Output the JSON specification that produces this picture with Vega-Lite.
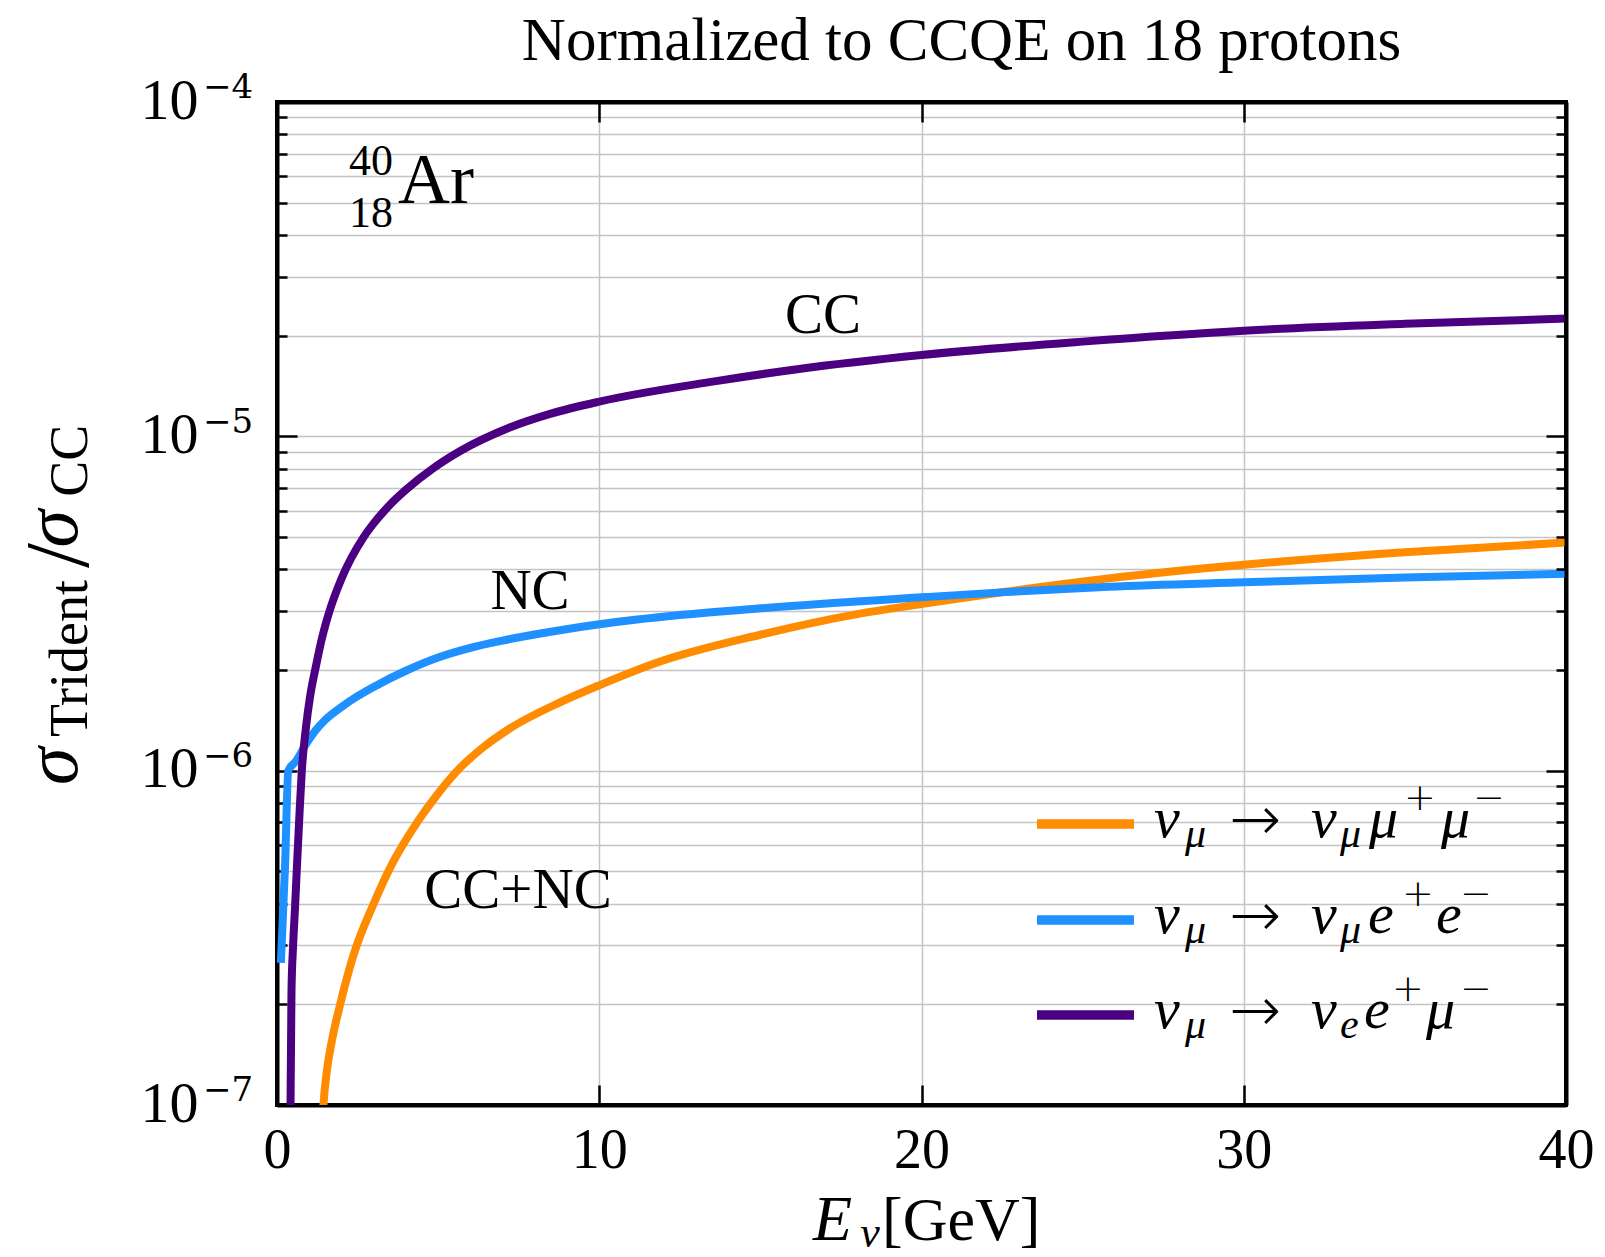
{
  "$schema": "https://vega.github.io/schema/vega-lite/v6.json",
  "width": 1289,
  "height": 1003,
  "autosize": {"type": "none"},
  "padding": {"left": 277, "top": 102, "right": 39, "bottom": 152},
  "background": "white",
  "config": {"view": {"stroke": "black", "strokeWidth": 4}, "font": "Liberation Serif"},
  "title": {"text": "Normalized to CCQE on 18 protons", "font": "Liberation Serif", "fontSize": 61, "fontWeight": "normal", "color": "black", "anchor": "middle", "dx": 40, "baseline": "alphabetic", "offset": -50},
  "datasets": {
    "curves": [
      {"s": "ν_μ → ν_μ μ⁺μ⁻", "E": 1.38, "v": 8e-8},
      {"s": "ν_μ → ν_μ μ⁺μ⁻", "E": 1.44, "v": 1.0e-7},
      {"s": "ν_μ → ν_μ μ⁺μ⁻", "E": 1.54, "v": 1.25e-7},
      {"s": "ν_μ → ν_μ μ⁺μ⁻", "E": 1.70, "v": 1.55e-7},
      {"s": "ν_μ → ν_μ μ⁺μ⁻", "E": 1.96, "v": 2.0e-7},
      {"s": "ν_μ → ν_μ μ⁺μ⁻", "E": 2.37, "v": 2.8e-7},
      {"s": "ν_μ → ν_μ μ⁺μ⁻", "E": 3.0, "v": 4.0e-7},
      {"s": "ν_μ → ν_μ μ⁺μ⁻", "E": 3.5, "v": 5.1e-7},
      {"s": "ν_μ → ν_μ μ⁺μ⁻", "E": 4.39, "v": 7.1e-7},
      {"s": "ν_μ → ν_μ μ⁺μ⁻", "E": 5.0, "v": 8.55e-7},
      {"s": "ν_μ → ν_μ μ⁺μ⁻", "E": 5.66, "v": 1.015e-6},
      {"s": "ν_μ → ν_μ μ⁺μ⁻", "E": 6.4, "v": 1.175e-6},
      {"s": "ν_μ → ν_μ μ⁺μ⁻", "E": 7.24, "v": 1.34e-6},
      {"s": "ν_μ → ν_μ μ⁺μ⁻", "E": 8.78, "v": 1.6e-6},
      {"s": "ν_μ → ν_μ μ⁺μ⁻", "E": 10, "v": 1.8e-6},
      {"s": "ν_μ → ν_μ μ⁺μ⁻", "E": 11.89, "v": 2.12e-6},
      {"s": "ν_μ → ν_μ μ⁺μ⁻", "E": 15, "v": 2.55e-6},
      {"s": "ν_μ → ν_μ μ⁺μ⁻", "E": 18.09, "v": 2.95e-6},
      {"s": "ν_μ → ν_μ μ⁺μ⁻", "E": 20, "v": 3.15e-6},
      {"s": "ν_μ → ν_μ μ⁺μ⁻", "E": 22.6, "v": 3.43e-6},
      {"s": "ν_μ → ν_μ μ⁺μ⁻", "E": 25.8, "v": 3.76e-6},
      {"s": "ν_μ → ν_μ μ⁺μ⁻", "E": 30, "v": 4.13e-6},
      {"s": "ν_μ → ν_μ μ⁺μ⁻", "E": 35, "v": 4.5e-6},
      {"s": "ν_μ → ν_μ μ⁺μ⁻", "E": 40, "v": 4.81e-6},
      {"s": "ν_μ → ν_μ e⁺e⁻", "E": 0.12, "v": 2.66e-7},
      {"s": "ν_μ → ν_μ e⁺e⁻", "E": 0.25, "v": 5.2e-7},
      {"s": "ν_μ → ν_μ e⁺e⁻", "E": 0.35, "v": 1.0e-6},
      {"s": "ν_μ → ν_μ e⁺e⁻", "E": 0.6, "v": 1.07e-6},
      {"s": "ν_μ → ν_μ e⁺e⁻", "E": 0.9, "v": 1.2e-6},
      {"s": "ν_μ → ν_μ e⁺e⁻", "E": 1.2, "v": 1.32e-6},
      {"s": "ν_μ → ν_μ e⁺e⁻", "E": 1.5, "v": 1.42e-6},
      {"s": "ν_μ → ν_μ e⁺e⁻", "E": 2.0, "v": 1.55e-6},
      {"s": "ν_μ → ν_μ e⁺e⁻", "E": 2.5, "v": 1.67e-6},
      {"s": "ν_μ → ν_μ e⁺e⁻", "E": 3.0, "v": 1.78e-6},
      {"s": "ν_μ → ν_μ e⁺e⁻", "E": 4.0, "v": 1.99e-6},
      {"s": "ν_μ → ν_μ e⁺e⁻", "E": 5.0, "v": 2.18e-6},
      {"s": "ν_μ → ν_μ e⁺e⁻", "E": 6.0, "v": 2.33e-6},
      {"s": "ν_μ → ν_μ e⁺e⁻", "E": 7.0, "v": 2.45e-6},
      {"s": "ν_μ → ν_μ e⁺e⁻", "E": 8.78, "v": 2.63e-6},
      {"s": "ν_μ → ν_μ e⁺e⁻", "E": 10, "v": 2.74e-6},
      {"s": "ν_μ → ν_μ e⁺e⁻", "E": 12.5, "v": 2.92e-6},
      {"s": "ν_μ → ν_μ e⁺e⁻", "E": 15, "v": 3.06e-6},
      {"s": "ν_μ → ν_μ e⁺e⁻", "E": 20, "v": 3.3e-6},
      {"s": "ν_μ → ν_μ e⁺e⁻", "E": 22.6, "v": 3.42e-6},
      {"s": "ν_μ → ν_μ e⁺e⁻", "E": 25.8, "v": 3.55e-6},
      {"s": "ν_μ → ν_μ e⁺e⁻", "E": 30, "v": 3.66e-6},
      {"s": "ν_μ → ν_μ e⁺e⁻", "E": 35, "v": 3.78e-6},
      {"s": "ν_μ → ν_μ e⁺e⁻", "E": 40, "v": 3.88e-6},
      {"s": "ν_μ → ν_e e⁺μ⁻", "E": 0.40, "v": 5e-8},
      {"s": "ν_μ → ν_e e⁺μ⁻", "E": 0.42, "v": 1.0e-7},
      {"s": "ν_μ → ν_e e⁺μ⁻", "E": 0.45, "v": 2.2e-7},
      {"s": "ν_μ → ν_e e⁺μ⁻", "E": 0.50, "v": 3.0e-7},
      {"s": "ν_μ → ν_e e⁺μ⁻", "E": 0.56, "v": 3.9e-7},
      {"s": "ν_μ → ν_e e⁺μ⁻", "E": 0.62, "v": 5.2e-7},
      {"s": "ν_μ → ν_e e⁺μ⁻", "E": 0.70, "v": 7.5e-7},
      {"s": "ν_μ → ν_e e⁺μ⁻", "E": 0.77, "v": 1.0e-6},
      {"s": "ν_μ → ν_e e⁺μ⁻", "E": 0.90, "v": 1.35e-6},
      {"s": "ν_μ → ν_e e⁺μ⁻", "E": 1.02, "v": 1.65e-6},
      {"s": "ν_μ → ν_e e⁺μ⁻", "E": 1.22, "v": 2.08e-6},
      {"s": "ν_μ → ν_e e⁺μ⁻", "E": 1.40, "v": 2.5e-6},
      {"s": "ν_μ → ν_e e⁺μ⁻", "E": 1.61, "v": 2.96e-6},
      {"s": "ν_μ → ν_e e⁺μ⁻", "E": 2.0, "v": 3.75e-6},
      {"s": "ν_μ → ν_e e⁺μ⁻", "E": 2.68, "v": 4.98e-6},
      {"s": "ν_μ → ν_e e⁺μ⁻", "E": 3.0, "v": 5.49e-6},
      {"s": "ν_μ → ν_e e⁺μ⁻", "E": 3.44, "v": 6.15e-6},
      {"s": "ν_μ → ν_e e⁺μ⁻", "E": 4.0, "v": 6.92e-6},
      {"s": "ν_μ → ν_e e⁺μ⁻", "E": 4.86, "v": 8.04e-6},
      {"s": "ν_μ → ν_e e⁺μ⁻", "E": 5.7, "v": 9.05e-6},
      {"s": "ν_μ → ν_e e⁺μ⁻", "E": 7.24, "v": 1.064e-5},
      {"s": "ν_μ → ν_e e⁺μ⁻", "E": 8.5, "v": 1.169e-5},
      {"s": "ν_μ → ν_e e⁺μ⁻", "E": 10, "v": 1.27e-5},
      {"s": "ν_μ → ν_e e⁺μ⁻", "E": 13.57, "v": 1.46e-5},
      {"s": "ν_μ → ν_e e⁺μ⁻", "E": 16.2, "v": 1.59e-5},
      {"s": "ν_μ → ν_e e⁺μ⁻", "E": 20, "v": 1.75e-5},
      {"s": "ν_μ → ν_e e⁺μ⁻", "E": 25, "v": 1.92e-5},
      {"s": "ν_μ → ν_e e⁺μ⁻", "E": 30, "v": 2.07e-5},
      {"s": "ν_μ → ν_e e⁺μ⁻", "E": 35, "v": 2.17e-5},
      {"s": "ν_μ → ν_e e⁺μ⁻", "E": 40, "v": 2.25e-5}
    ],
    "swatch": [
      {"s": "ν_μ → ν_μ μ⁺μ⁻", "E1": 23.585, "E2": 26.594, "v": 6.925e-7},
      {"s": "ν_μ → ν_μ e⁺e⁻", "E1": 23.585, "E2": 26.594, "v": 3.575e-7},
      {"s": "ν_μ → ν_e e⁺μ⁻", "E1": 23.585, "E2": 26.594, "v": 1.859e-7}
    ],
    "ann": [
      {"t": "CC", "E": 16.943, "v": 2.037e-5, "k": "lab"},
      {"t": "NC", "E": 7.851, "v": 3.044e-6, "k": "lab"},
      {"t": "CC+NC", "E": 7.479, "v": 3.884e-7, "k": "lab"},
      {"t": "Ar", "E": 3.755, "v": 4.987e-5, "k": "ar"},
      {"t": "40", "E": 3.6, "v": 6.05e-5, "k": "iso"},
      {"t": "18", "E": 3.6, "v": 4.23e-5, "k": "iso"},
      {"t": "−4", "E": -2.296, "v": 1.025e-4, "k": "exp"},
      {"t": "−5", "E": -2.296, "v": 1.025e-5, "k": "exp"},
      {"t": "−6", "E": -2.296, "v": 1.025e-6, "k": "exp"},
      {"t": "−7", "E": -2.296, "v": 1.025e-7, "k": "exp"},
      {"t": "E", "E": 16.633, "v": 3.946e-8, "k": "xt_it"},
      {"t": "ν", "E": 18.1, "v": 3.759e-8, "k": "xt_sub"},
      {"t": "[GeV]", "E": 18.774, "v": 3.946e-8, "k": "xt_rm"},
      {"t": "σ", "E": -6.206, "v": 9.06e-7, "k": "yt_it"},
      {"t": "Trident", "E": -5.896, "v": 1.261e-6, "k": "yt_sub"},
      {"t": "/", "E": -5.865, "v": 4.04e-6, "k": "yt_rm"},
      {"t": "σ", "E": -6.206, "v": 4.65e-6, "k": "yt_it"},
      {"t": "CC", "E": -5.896, "v": 6.6e-6, "k": "yt_sub"},
      {"t": "ν", "E": 27.215, "v": 6.33e-7, "k": "lg_it"},
      {"t": "μ", "E": 28.177, "v": 5.91e-7, "k": "lg_sub"},
      {"t": "→", "E": 29.55, "v": 6.2e-7, "k": "lg_rm"},
      {"t": "ν", "E": 32.087, "v": 6.33e-7, "k": "lg_it"},
      {"t": "μ", "E": 32.987, "v": 5.91e-7, "k": "lg_sub"},
      {"t": "μ", "E": 33.887, "v": 6.33e-7, "k": "lg_it"},
      {"t": "+", "E": 34.97, "v": 7.625e-7, "k": "lg_sup"},
      {"t": "μ", "E": 36.121, "v": 6.33e-7, "k": "lg_it"},
      {"t": "−", "E": 37.114, "v": 7.625e-7, "k": "lg_sup"},
      {"t": "ν", "E": 27.215, "v": 3.27e-7, "k": "lg_it"},
      {"t": "μ", "E": 28.177, "v": 3.05e-7, "k": "lg_sub"},
      {"t": "→", "E": 29.55, "v": 3.2e-7, "k": "lg_rm"},
      {"t": "ν", "E": 32.087, "v": 3.27e-7, "k": "lg_it"},
      {"t": "μ", "E": 32.987, "v": 3.05e-7, "k": "lg_sub"},
      {"t": "e", "E": 33.856, "v": 3.27e-7, "k": "lg_it"},
      {"t": "+", "E": 34.91, "v": 3.937e-7, "k": "lg_sup"},
      {"t": "e", "E": 35.966, "v": 3.27e-7, "k": "lg_it"},
      {"t": "−", "E": 36.711, "v": 3.937e-7, "k": "lg_sup"},
      {"t": "ν", "E": 27.215, "v": 1.7e-7, "k": "lg_it"},
      {"t": "μ", "E": 28.177, "v": 1.586e-7, "k": "lg_sub"},
      {"t": "→", "E": 29.55, "v": 1.665e-7, "k": "lg_rm"},
      {"t": "ν", "E": 32.087, "v": 1.7e-7, "k": "lg_it"},
      {"t": "e", "E": 32.987, "v": 1.586e-7, "k": "lg_sub"},
      {"t": "e", "E": 33.732, "v": 1.7e-7, "k": "lg_it"},
      {"t": "+", "E": 34.6, "v": 2.046e-7, "k": "lg_sup"},
      {"t": "μ", "E": 35.656, "v": 1.7e-7, "k": "lg_it"},
      {"t": "−", "E": 36.711, "v": 2.046e-7, "k": "lg_sup"}
    ]
  },
  "layer": [
    {
      "data": {"name": "curves"},
      "mark": {"type": "line", "strokeWidth": 8, "clip": true, "interpolate": "monotone"},
      "encoding": {
        "x": {"field": "E", "type": "quantitative", "scale": {"domain": [0, 40], "nice": false, "zero": false},
          "axis": {"orient": "bottom", "values": [0, 10, 20, 30, 40], "format": "d", "grid": true, "gridColor": "#c4c4c4", "gridWidth": 1.5, "ticks": true, "tickSize": -20, "tickWidth": 2.5, "tickColor": "black", "domain": true, "domainColor": "black", "domainWidth": 4, "labelFont": "Liberation Serif", "labelFontSize": 56, "labelColor": "black", "labelPadding": 38, "labelFlush": false, "labelOverlap": false, "title": null}},
        "y": {"field": "v", "type": "quantitative", "scale": {"type": "log", "domain": [1e-7, 1e-4], "nice": false},
          "axis": {"orient": "left", "values": [1e-7, 2e-7, 3e-7, 4e-7, 5e-7, 6e-7, 7e-7, 8e-7, 9e-7, 1e-6, 2e-6, 3e-6, 4e-6, 5e-6, 6e-6, 7e-6, 8e-6, 9e-6, 1e-5, 2e-5, 3e-5, 4e-5, 5e-5, 6e-5, 7e-5, 8e-5, 9e-5, 1e-4],
            "labelExpr": "abs(log(datum.value)/LN10 - round(log(datum.value)/LN10)) < 0.001 ? '10' : ''",
            "grid": true, "gridColor": "#c4c4c4", "gridWidth": 1.5, "ticks": true,
            "tickSize": {"condition": {"test": "abs(log(datum.value)/LN10 - round(log(datum.value)/LN10)) < 0.001", "value": -20}, "value": -10},
            "tickWidth": 2.5, "tickColor": "black", "domain": true, "domainColor": "black", "domainWidth": 4, "labelFont": "Liberation Serif", "labelFontSize": 58, "labelColor": "black", "labelPadding": 99, "labelBaseline": "alphabetic", "labelOffset": 16, "labelFlush": false, "labelOverlap": false, "title": null}},
        "color": {"field": "s", "type": "nominal", "scale": {"domain": ["ν_μ → ν_μ μ⁺μ⁻", "ν_μ → ν_μ e⁺e⁻", "ν_μ → ν_e e⁺μ⁻"], "range": ["#FF8C00", "#1E90FF", "#4B0082"]}, "legend": null}
      }
    },
    {
      "data": {"name": "curves"},
      "mark": {"type": "point", "opacity": 0},
      "encoding": {
        "x": {"field": "E", "type": "quantitative", "scale": {"domain": [0, 40], "nice": false, "zero": false},
          "axis": {"orient": "top", "values": [0, 10, 20, 30, 40], "grid": false, "labels": false, "ticks": true, "tickSize": -20, "tickWidth": 2.5, "tickColor": "black", "domain": true, "domainColor": "black", "domainWidth": 4, "title": null, "zindex": 1}},
        "y": {"field": "v", "type": "quantitative", "scale": {"type": "log", "domain": [1e-7, 1e-4], "nice": false},
          "axis": {"orient": "right", "values": [1e-7, 2e-7, 3e-7, 4e-7, 5e-7, 6e-7, 7e-7, 8e-7, 9e-7, 1e-6, 2e-6, 3e-6, 4e-6, 5e-6, 6e-6, 7e-6, 8e-6, 9e-6, 1e-5, 2e-5, 3e-5, 4e-5, 5e-5, 6e-5, 7e-5, 8e-5, 9e-5, 1e-4],
            "grid": false, "labels": false, "ticks": true,
            "tickSize": {"condition": {"test": "abs(log(datum.value)/LN10 - round(log(datum.value)/LN10)) < 0.001", "value": -20}, "value": -10},
            "tickWidth": 2.5, "tickColor": "black", "domain": true, "domainColor": "black", "domainWidth": 4, "title": null, "zindex": 1}}
      }
    },
    {
      "data": {"name": "swatch"},
      "mark": {"type": "rule", "strokeWidth": 9.5, "strokeCap": "butt"},
      "encoding": {
        "x": {"field": "E1", "type": "quantitative", "scale": {"domain": [0, 40], "nice": false, "zero": false}, "axis": null},
        "x2": {"field": "E2"},
        "y": {"field": "v", "type": "quantitative", "scale": {"type": "log", "domain": [1e-7, 1e-4], "nice": false}, "axis": null},
        "color": {"field": "s", "type": "nominal", "legend": null}
      }
    },
    {
      "data": {"name": "ann"},
      "transform": [{"filter": "datum.k == 'lab'"}],
      "mark": {"type": "text", "font": "Liberation Serif", "fontSize": 57, "align": "center", "baseline": "alphabetic", "color": "black"},
      "encoding": {
        "x": {"field": "E", "type": "quantitative", "scale": {"domain": [0, 40], "nice": false, "zero": false}, "axis": null},
        "y": {"field": "v", "type": "quantitative", "scale": {"type": "log", "domain": [1e-7, 1e-4], "nice": false}, "axis": null},
        "text": {"field": "t"}
      }
    },
    {
      "data": {"name": "ann"},
      "transform": [{"filter": "datum.k == 'ar'"}],
      "mark": {"type": "text", "font": "Liberation Serif", "fontSize": 72, "align": "left", "baseline": "alphabetic", "color": "black"},
      "encoding": {
        "x": {"field": "E", "type": "quantitative", "scale": {"domain": [0, 40], "nice": false, "zero": false}, "axis": null},
        "y": {"field": "v", "type": "quantitative", "scale": {"type": "log", "domain": [1e-7, 1e-4], "nice": false}, "axis": null},
        "text": {"field": "t"}
      }
    },
    {
      "data": {"name": "ann"},
      "transform": [{"filter": "datum.k == 'iso'"}],
      "mark": {"type": "text", "font": "Liberation Serif", "fontSize": 44, "align": "right", "baseline": "alphabetic", "color": "black"},
      "encoding": {
        "x": {"field": "E", "type": "quantitative", "scale": {"domain": [0, 40], "nice": false, "zero": false}, "axis": null},
        "y": {"field": "v", "type": "quantitative", "scale": {"type": "log", "domain": [1e-7, 1e-4], "nice": false}, "axis": null},
        "text": {"field": "t"}
      }
    },
    {
      "data": {"name": "ann"},
      "transform": [{"filter": "datum.k == 'exp'"}],
      "mark": {"type": "text", "font": "DejaVu Serif", "fontSize": 34, "align": "left", "baseline": "alphabetic", "color": "black"},
      "encoding": {
        "x": {"field": "E", "type": "quantitative", "scale": {"domain": [0, 40], "nice": false, "zero": false}, "axis": null},
        "y": {"field": "v", "type": "quantitative", "scale": {"type": "log", "domain": [1e-7, 1e-4], "nice": false}, "axis": null},
        "text": {"field": "t"}
      }
    },
    {
      "data": {"name": "ann"},
      "transform": [{"filter": "datum.k == 'xt_it'"}],
      "mark": {"type": "text", "font": "Liberation Serif", "fontSize": 64, "fontStyle": "italic", "align": "left", "baseline": "alphabetic", "color": "black"},
      "encoding": {
        "x": {"field": "E", "type": "quantitative", "scale": {"domain": [0, 40], "nice": false, "zero": false}, "axis": null},
        "y": {"field": "v", "type": "quantitative", "scale": {"type": "log", "domain": [1e-7, 1e-4], "nice": false}, "axis": null},
        "text": {"field": "t"}
      }
    },
    {
      "data": {"name": "ann"},
      "transform": [{"filter": "datum.k == 'xt_sub'"}],
      "mark": {"type": "text", "font": "Liberation Serif", "fontSize": 44, "fontStyle": "italic", "align": "left", "baseline": "alphabetic", "color": "black"},
      "encoding": {
        "x": {"field": "E", "type": "quantitative", "scale": {"domain": [0, 40], "nice": false, "zero": false}, "axis": null},
        "y": {"field": "v", "type": "quantitative", "scale": {"type": "log", "domain": [1e-7, 1e-4], "nice": false}, "axis": null},
        "text": {"field": "t"}
      }
    },
    {
      "data": {"name": "ann"},
      "transform": [{"filter": "datum.k == 'xt_rm'"}],
      "mark": {"type": "text", "font": "Liberation Serif", "fontSize": 62, "align": "left", "baseline": "alphabetic", "color": "black"},
      "encoding": {
        "x": {"field": "E", "type": "quantitative", "scale": {"domain": [0, 40], "nice": false, "zero": false}, "axis": null},
        "y": {"field": "v", "type": "quantitative", "scale": {"type": "log", "domain": [1e-7, 1e-4], "nice": false}, "axis": null},
        "text": {"field": "t"}
      }
    },
    {
      "data": {"name": "ann"},
      "transform": [{"filter": "datum.k == 'yt_it'"}],
      "mark": {"type": "text", "font": "Liberation Serif", "fontSize": 76, "fontStyle": "italic", "angle": 270, "align": "left", "baseline": "alphabetic", "color": "black"},
      "encoding": {
        "x": {"field": "E", "type": "quantitative", "scale": {"domain": [0, 40], "nice": false, "zero": false}, "axis": null},
        "y": {"field": "v", "type": "quantitative", "scale": {"type": "log", "domain": [1e-7, 1e-4], "nice": false}, "axis": null},
        "text": {"field": "t"}
      }
    },
    {
      "data": {"name": "ann"},
      "transform": [{"filter": "datum.k == 'yt_sub'"}],
      "mark": {"type": "text", "font": "Liberation Serif", "fontSize": 54, "angle": 270, "align": "left", "baseline": "alphabetic", "color": "black"},
      "encoding": {
        "x": {"field": "E", "type": "quantitative", "scale": {"domain": [0, 40], "nice": false, "zero": false}, "axis": null},
        "y": {"field": "v", "type": "quantitative", "scale": {"type": "log", "domain": [1e-7, 1e-4], "nice": false}, "axis": null},
        "text": {"field": "t"}
      }
    },
    {
      "data": {"name": "ann"},
      "transform": [{"filter": "datum.k == 'yt_rm'"}],
      "mark": {"type": "text", "font": "Liberation Serif", "fontSize": 90, "angle": 270, "align": "left", "baseline": "alphabetic", "color": "black"},
      "encoding": {
        "x": {"field": "E", "type": "quantitative", "scale": {"domain": [0, 40], "nice": false, "zero": false}, "axis": null},
        "y": {"field": "v", "type": "quantitative", "scale": {"type": "log", "domain": [1e-7, 1e-4], "nice": false}, "axis": null},
        "text": {"field": "t"}
      }
    },
    {
      "data": {"name": "ann"},
      "transform": [{"filter": "datum.k == 'lg_it'"}],
      "mark": {"type": "text", "font": "Liberation Serif", "fontSize": 58, "fontStyle": "italic", "align": "left", "baseline": "alphabetic", "color": "black"},
      "encoding": {
        "x": {"field": "E", "type": "quantitative", "scale": {"domain": [0, 40], "nice": false, "zero": false}, "axis": null},
        "y": {"field": "v", "type": "quantitative", "scale": {"type": "log", "domain": [1e-7, 1e-4], "nice": false}, "axis": null},
        "text": {"field": "t"}
      }
    },
    {
      "data": {"name": "ann"},
      "transform": [{"filter": "datum.k == 'lg_sub'"}],
      "mark": {"type": "text", "font": "Liberation Serif", "fontSize": 42, "fontStyle": "italic", "align": "left", "baseline": "alphabetic", "color": "black"},
      "encoding": {
        "x": {"field": "E", "type": "quantitative", "scale": {"domain": [0, 40], "nice": false, "zero": false}, "axis": null},
        "y": {"field": "v", "type": "quantitative", "scale": {"type": "log", "domain": [1e-7, 1e-4], "nice": false}, "axis": null},
        "text": {"field": "t"}
      }
    },
    {
      "data": {"name": "ann"},
      "transform": [{"filter": "datum.k == 'lg_rm'"}],
      "mark": {"type": "text", "font": "DejaVu Sans", "fontSize": 62, "fontWeight": 200, "align": "left", "baseline": "alphabetic", "color": "black"},
      "encoding": {
        "x": {"field": "E", "type": "quantitative", "scale": {"domain": [0, 40], "nice": false, "zero": false}, "axis": null},
        "y": {"field": "v", "type": "quantitative", "scale": {"type": "log", "domain": [1e-7, 1e-4], "nice": false}, "axis": null},
        "text": {"field": "t"}
      }
    },
    {
      "data": {"name": "ann"},
      "transform": [{"filter": "datum.k == 'lg_sup'"}],
      "mark": {"type": "text", "font": "DejaVu Sans", "fontSize": 38, "fontWeight": 200, "align": "left", "baseline": "alphabetic", "color": "black"},
      "encoding": {
        "x": {"field": "E", "type": "quantitative", "scale": {"domain": [0, 40], "nice": false, "zero": false}, "axis": null},
        "y": {"field": "v", "type": "quantitative", "scale": {"type": "log", "domain": [1e-7, 1e-4], "nice": false}, "axis": null},
        "text": {"field": "t"}
      }
    }
  ],
  "resolve": {"axis": {"x": "independent", "y": "independent"}}
}
